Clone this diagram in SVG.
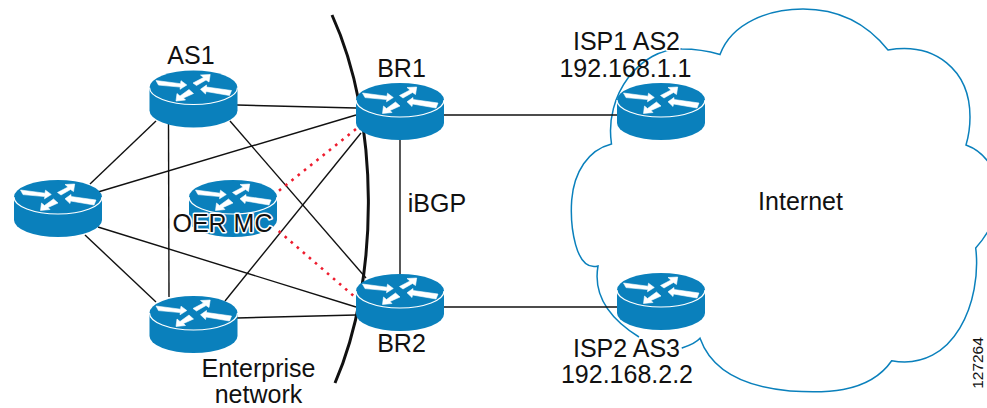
<svg xmlns="http://www.w3.org/2000/svg" xmlns:xlink="http://www.w3.org/1999/xlink" width="987" height="408" viewBox="0 0 987 408">
<style>
.lbl{font-family:"Liberation Sans",Arial,sans-serif;font-size:25px;fill:#111;text-anchor:middle}
.halo{paint-order:stroke;stroke:#fff;stroke-width:3px;stroke-linejoin:round}
.link{fill:none;stroke:#111;stroke-width:1.4}
.red{fill:none;stroke:#ee1c2e;stroke-width:2.6;stroke-dasharray:2.6 5.4}
.cloud{fill:none;stroke:#0a80bc;stroke-width:1.5}
.body{fill:#0a80bc}
.rim{fill:none;stroke:#fff;stroke-width:1.2}
.arr{fill:#fff;stroke:#fff;stroke-width:0.6;stroke-linejoin:round}
</style>
<defs>
<g id="router">
<path class="body" d="M-44,0A44,17 0 0 1 44,0V23A44,17 0 0 1 -44,23Z"/>
<path class="rim" d="M-44,0A44,17 0 0 0 44,0"/>
<path class="arr" d="M-37.500,-7L-13,-3.800L-12.500,-6.800L-6.700,-2.500L-13.500,1.800L-13.200,-0.400L-35,-2.400Z"/>
<path class="arr" d="M16.700,-13L7,-12.500L10,-10L-0.500,-4.500L3,-2L12.500,-7.500L15.500,-5.500Z"/>
<path class="arr" d="M7,1.800L13,-2.500L13,-0.500L38,3L36,8L12.500,4L12,6.500Z"/>
<path class="arr" d="M-17.500,13.500L-16.500,6L-13.500,8.500L-4.500,2L0,6L-10,10.500L-8,12.500Z"/>
</g>
</defs>
<path class="cloud" id="cloud" d="M639,337C615,322 592,300 598,266C575,272 570,225 571.700,200C574,172 588,150 611.500,144C604,95 640,48 682,49C695,49 708,51 720,54.500C732,22 770,9 803,9C840,9 868,25 888,50C935,42 970,70 970,117C970,126 969,135 966,145C985,152 998,170 998,195C998,215 990,232 975.700,248C982,300 955,372 891.700,360.700C868,395 820,393 790,391C745,387 712,372 700,338.300C695,344 688,346 681.700,348"/>
<g id="connectors">
<path d="M332,15C380,120 380,280 335,383" fill="none" stroke="#111" stroke-width="3"/>
<path class="link" d="M237,105L356,108"/>
<path class="link" d="M156,121L90,184"/>
<path class="link" d="M168.500,123L169,297"/>
<path class="link" d="M230,121L366,278"/>
<path class="link" d="M98,192L356,115"/>
<path class="link" d="M98,227L356,307"/>
<path class="link" d="M85,235L156,302"/>
<path class="link" d="M225,301L361,133"/>
<path class="link" d="M237,318L356,315"/>
<path class="link" d="M400,140V274"/>
<path class="link" d="M444,115H617"/>
<path class="link" d="M444,307H617"/>
<path class="red" d="M279,190.700L356,129"/>
<path class="red" d="M278.700,231L356,298"/>
</g>
<g id="as1"><use xlink:href="#router" href="#router" x="193.500" y="87.500"/><text class="lbl" x="191" y="64">AS1</text></g>
<g id="left-router"><use xlink:href="#router" href="#router" x="58" y="197"/></g>
<g id="oer-mc"><use xlink:href="#router" href="#router" x="233" y="197"/><text class="lbl halo" x="222.500" y="232">OER MC</text></g>
<g id="bottom-router"><use xlink:href="#router" href="#router" x="193.500" y="313"/></g>
<g id="br1"><use xlink:href="#router" href="#router" x="400" y="100"/><text class="lbl" x="401.500" y="77">BR1</text></g>
<g id="br2"><use xlink:href="#router" href="#router" x="400" y="291"/><text class="lbl" x="401.500" y="352">BR2</text></g>
<g id="isp1"><use xlink:href="#router" href="#router" x="661" y="100"/><text class="lbl halo" x="626.500" y="50">ISP1 AS2</text><text class="lbl" x="625.500" y="77">192.168.1.1</text></g>
<g id="isp2"><use xlink:href="#router" href="#router" x="661" y="290"/><text class="lbl halo" x="626.500" y="357">ISP2 AS3</text><text class="lbl" x="627" y="383">192.168.2.2</text></g>
<text class="lbl" x="258.500" y="377">Enterprise</text>
<text class="lbl" x="258.500" y="403">network</text>
<text class="lbl" x="437" y="212">iBGP</text>
<text class="lbl" x="800.500" y="210">Internet</text>
<text class="lbl" transform="translate(983,363) rotate(-90)" style="font-size:15.500px">127264</text>
</svg>
